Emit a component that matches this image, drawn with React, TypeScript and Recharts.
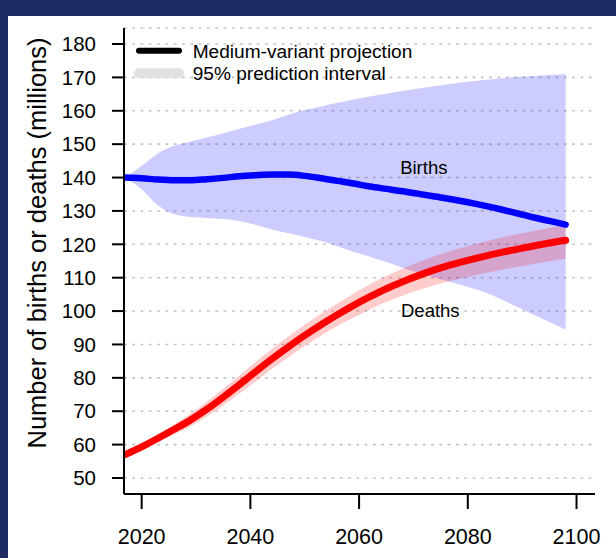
import { ComposedChart, Area, Line, XAxis, YAxis, CartesianGrid, ReferenceDot } from 'recharts';

// projection years (every 3 years)
const years = [
  2017, 2020, 2023, 2026, 2029, 2032, 2035, 2038, 2041, 2044, 2047, 2050, 2053, 2056,
  2059, 2062, 2065, 2068, 2071, 2074, 2077, 2080, 2083, 2086, 2089, 2092, 2095, 2098,
];

// millions
const births = [
  140.0, 139.8, 139.4, 139.2, 139.2, 139.5, 139.9, 140.4, 140.7, 140.9, 140.9, 140.5, 139.8, 139.0,
  138.2, 137.3, 136.6, 135.9, 135.1, 134.3, 133.5, 132.6, 131.6, 130.5, 129.3, 128.1, 127.0, 125.9,
];
const birthsLow = [
  140.0, 136.5, 131.6, 129.0, 128.2, 127.9, 127.6, 127.0, 125.8, 124.4, 123.3, 122.2, 121.0, 119.4,
  117.8, 116.3, 114.7, 113.0, 111.4, 110.0, 108.6, 107.2, 105.7, 103.6, 101.3, 99.0, 96.7, 94.4,
];
const birthsHigh = [
  140.0, 143.5, 147.2, 149.5, 150.8, 152.0, 153.2, 154.6, 155.9, 157.2, 158.8, 160.2, 161.3, 162.4,
  163.4, 164.3, 165.1, 165.9, 166.7, 167.4, 168.1, 168.7, 169.2, 169.7, 170.1, 170.4, 170.7, 171.0,
];

const deaths = [
  57.0, 59.3, 61.9, 64.6, 67.4, 70.6, 74.2, 78.0, 81.9, 85.7, 89.3, 92.7, 95.9, 98.9,
  101.7, 104.3, 106.7, 108.8, 110.7, 112.4, 113.9, 115.2, 116.4, 117.5, 118.5, 119.5, 120.4, 121.2,
];
const deathsLow = [
  56.8, 58.7, 60.8, 63.1, 65.5, 68.4, 71.7, 75.3, 79.0, 82.7, 86.2, 89.5, 92.6, 95.5,
  98.1, 100.5, 102.7, 104.6, 106.3, 107.8, 109.1, 110.2, 111.3, 112.3, 113.2, 114.1, 114.9, 115.7,
];
const deathsHigh = [
  57.2, 59.9, 63.0, 66.1, 69.3, 72.8, 76.7, 80.7, 84.8, 88.7, 92.4, 95.9, 99.2, 102.3,
  105.3, 108.0, 110.5, 112.7, 114.7, 116.5, 118.1, 119.5, 120.8, 121.9, 123.0, 124.0, 124.9, 125.7,
];

const yearTicks = [2020, 2040, 2060, 2080, 2100];
const valueTicks = [50, 60, 70, 80, 90, 100, 110, 120, 130, 140, 150, 160, 170, 180];

const data = years.map((year, i) => ({
  year,
  births: births[i],
  birthsBand: [birthsLow[i], birthsHigh[i]],
  deaths: deaths[i],
  deathsBand: [deathsLow[i], deathsHigh[i]],
}));

const font = '"Liberation Sans", Arial, Helvetica, sans-serif';
const navy = '#1f2c63';

export default function App() {
  return (
    <div style={{ position: 'relative', width: 616, height: 558, background: '#fff', overflow: 'hidden', fontFamily: font }}>
      <style>{'body{margin:0}'}</style>
      <ComposedChart
        width={616}
        height={558}
        data={data}
        margin={{ top: 28, right: 21, bottom: 4, left: 0 }}
      >
        <CartesianGrid vertical={false} stroke="#c2c2c2" strokeWidth={1.6} strokeDasharray="2.7 5.6" />
        <XAxis
          dataKey="year"
          type="number"
          domain={[2016.75, 2103.4]}
          ticks={yearTicks}
          allowDataOverflow
          height={60}
          axisLine={{ stroke: '#000', strokeWidth: 2 }}
          tickLine={{ stroke: '#000', strokeWidth: 2 }}
          tickSize={15}
          tickMargin={20}
          tick={{ fill: '#000', fontSize: 21.5, fontFamily: font }}
        />
        <YAxis
          type="number"
          domain={[45.2, 184.8]}
          ticks={valueTicks}
          allowDataOverflow
          width={124}
          interval={0}
          axisLine={{ stroke: '#000', strokeWidth: 2 }}
          tickLine={{ stroke: '#000', strokeWidth: 2 }}
          tickSize={12}
          tickMargin={16}
          tick={{ fill: '#000', fontSize: 20.5, fontFamily: font }}
        />
        <Area type="monotone" dataKey="birthsBand" stroke="none" fill="#0000ff" fillOpacity={0.2} isAnimationActive={false} />
        <Area type="monotone" dataKey="deathsBand" stroke="none" fill="#ff0000" fillOpacity={0.2} isAnimationActive={false} />
        <Line type="monotone" dataKey="births" stroke="#0000ff" strokeWidth={6.5} strokeLinecap="round" dot={false} activeDot={false} isAnimationActive={false} />
        <Line type="monotone" dataKey="deaths" stroke="#ff0000" strokeWidth={7} strokeLinecap="round" dot={false} activeDot={false} isAnimationActive={false} />
        <ReferenceDot x={2071.9} y={142.95} r={0} stroke="none" fill="none"
          label={{ value: 'Births', position: 'center', fontSize: 18.5, fill: '#000', fontFamily: font }} />
        <ReferenceDot x={2073.1} y={100.2} r={0} stroke="none" fill="none"
          label={{ value: 'Deaths', position: 'center', fontSize: 18.5, fill: '#000', fontFamily: font }} />
      </ComposedChart>

      {/* legend + axis title */}
      <svg width={616} height={558} style={{ position: 'absolute', left: 0, top: 0, pointerEvents: 'none' }}>
        <line x1={139} x2={179} y1={50.7} y2={50.7} stroke="#000" strokeWidth={6} strokeLinecap="round" />
        <text x={192.7} y={58} fontSize={19.1} fill="#000" fontFamily={font}>Medium-variant projection</text>
        <line x1={139} x2={179} y1={73.3} y2={73.3} stroke="#d9d9d9" strokeOpacity={0.8} strokeWidth={10} strokeLinecap="round" />
        <text x={192.7} y={80} fontSize={19.1} fill="#000" fontFamily={font}>95% prediction interval</text>
        <text
          x={0}
          y={0}
          transform="translate(37 243) rotate(-90)"
          textAnchor="middle"
          dominantBaseline="central"
          fontSize={25.5}
          fill="#000"
          fontFamily={font}
        >
          Number of births or deaths (millions)
        </text>
      </svg>

      {/* slide frame */}
      <div style={{ position: 'absolute', left: 0, top: 0, width: 616, height: 16, background: navy }} />
      <div style={{ position: 'absolute', left: 0, top: 0, width: 8, height: 558, background: navy }} />
    </div>
  );
}
